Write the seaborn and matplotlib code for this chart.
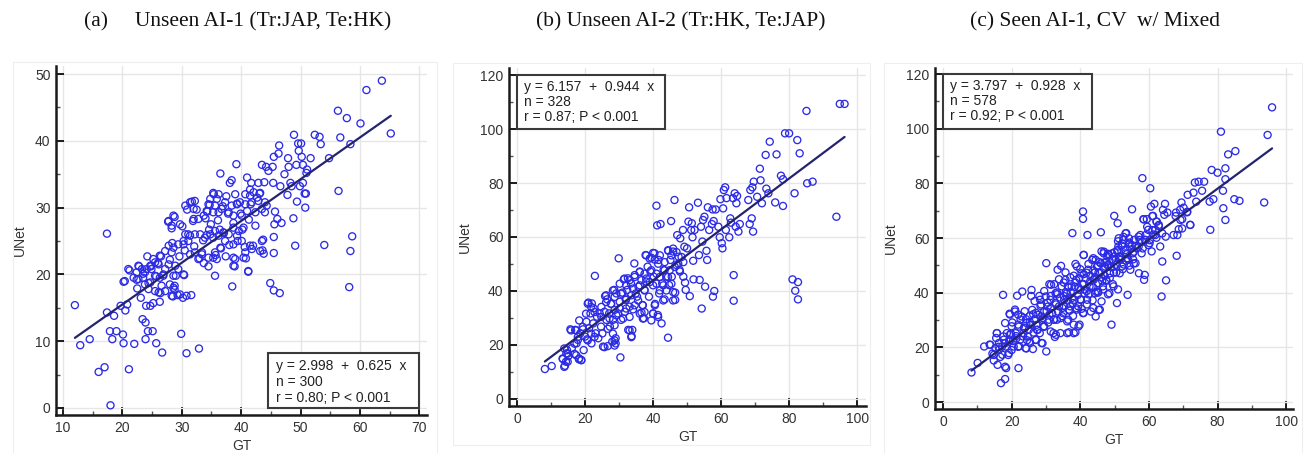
import numpy as np
import pandas as pd
import matplotlib
matplotlib.use("Agg")
import matplotlib.pyplot as plt
import seaborn as sns
from matplotlib.ticker import MultipleLocator
from matplotlib.patches import Rectangle

sns.set_theme(style="white")
plt.rcParams["font.family"] = ["Liberation Sans", "DejaVu Sans"]

# ---------------- data ----------------
titles = ["(a)     Unseen AI-1 (Tr:JAP, Te:HK)",
          "(b) Unseen AI-2 (Tr:HK, Te:JAP)",
          "(c) Seen AI-1, CV  w/ Mixed"]
x_label = "GT"
y_label = "UNet"
intercepts = [2.998, 6.157, 3.797]
slopes = [0.625, 0.944, 0.928]
n_values = [300, 328, 578]
r_values = [0.80, 0.87, 0.92]

# panel (a): spread-out points
a_gt = [12.0, 12.9, 14.5, 16.0, 17.0, 17.4, 17.4, 18.0, 17.9, 18.3,
        18.6, 19.0, 19.7, 20.1, 20.2, 20.2, 20.5, 20.8, 21.1, 21.2,
        22.0, 22.4, 22.5, 22.8, 23.1, 23.4, 23.9, 23.9, 24.0, 24.2,
        24.3, 24.7, 25.1, 24.8, 23.5, 24.4, 25.2, 25.7, 26.7, 26.3,
        26.4, 26.5, 25.7, 26.0, 26.9, 27.2, 27.7, 28.0, 28.3, 28.4,
        28.5, 28.8, 28.8, 28.8, 29.0, 29.3, 29.6, 29.9, 30.1, 30.2,
        30.3, 30.4, 30.5, 30.8, 30.9, 31.1, 31.6, 31.7, 31.9, 32.1,
        32.5, 32.9, 33.0, 33.4, 33.6, 33.7, 34.0, 34.2, 34.3, 34.5,
        34.6, 34.7, 34.9, 35.3, 35.4, 35.6, 35.7, 35.9, 36.1, 36.4,
        36.5, 36.6, 36.9, 37.1, 37.4, 37.5, 37.8, 38.0, 38.1, 38.4,
        38.5, 38.7, 38.9, 39.0, 39.2, 39.3, 39.4, 39.9, 40.2, 40.6,
        40.8, 41.0, 41.2, 41.3, 41.5, 41.6, 41.7, 42.0, 42.4, 42.7,
        42.9, 43.1, 43.5, 43.6, 43.7, 43.8, 43.9, 44.2, 44.3, 44.6,
        44.9, 45.3, 45.4, 45.5, 45.5, 45.6, 45.5, 45.5, 45.7, 46.1,
        46.3, 46.4, 46.5, 46.6, 46.8, 47.3, 47.8, 47.9, 48.0, 48.3,
        48.5, 48.8, 48.9, 49.1, 49.3, 49.4, 49.6, 49.7, 49.9, 50.1,
        50.2, 50.4, 50.4, 50.7, 50.8, 50.9, 51.0, 51.1, 51.7, 52.4,
        53.2, 53.4, 54.0, 54.8, 56.3, 56.4, 56.7, 57.8, 58.2, 58.4,
        58.4, 58.7, 60.1, 61.1, 63.7, 65.2]
a_unet = [15.4, 9.4, 10.3, 5.4, 6.1, 26.1, 14.3, 0.4, 11.5, 10.3,
          13.8, 11.5, 15.3, 11.0, 9.7, 18.9, 14.6, 15.5, 5.8, 20.6,
          9.6, 19.2, 17.9, 21.2, 16.5, 13.3, 12.8, 10.3, 15.3, 22.7,
          11.5, 15.3, 11.5, 21.2, 20.1, 18.7, 15.7, 9.7, 8.3, 15.9,
          17.2, 22.7, 19.7, 21.7, 20.0, 17.5, 27.9, 22.2, 26.9, 24.7,
          16.7, 28.6, 18.3, 17.7, 19.8, 16.9, 22.7, 11.1, 27.2, 16.5,
          25.0, 19.9, 23.6, 8.2, 29.7, 26.0, 16.9, 30.9, 28.0, 24.2,
          29.7, 8.9, 22.4, 23.3, 25.1, 21.7, 28.4, 25.9, 29.4, 21.2,
          26.7, 30.4, 27.5, 25.5, 32.0, 19.8, 22.9, 22.3, 28.1, 26.7,
          35.1, 23.9, 30.2, 26.2, 22.7, 31.7, 29.1, 24.4, 33.7, 34.1,
          18.2, 27.7, 21.2, 22.3, 36.5, 30.6, 25.0, 29.1, 26.7, 24.1,
          22.4, 34.5, 20.4, 28.2, 32.7, 30.5, 33.7, 24.3, 27.3, 31.5,
          33.7, 32.1, 36.4, 23.6, 25.2, 23.1, 33.8, 36.1, 30.3, 35.5,
          18.7, 36.1, 33.7, 37.6, 25.6, 27.5, 23.2, 17.6, 29.4, 28.3,
          38.1, 39.3, 17.2, 33.2, 27.7, 35.0, 31.9, 37.4, 36.1, 33.7,
          33.2, 28.4, 40.9, 24.3, 36.4, 30.9, 39.6, 38.5, 33.2, 39.6,
          37.6, 36.4, 33.7, 32.1, 30.0, 32.1, 35.2, 35.7, 37.4, 40.9,
          40.6, 39.5, 24.4, 37.4, 44.5, 32.5, 40.5, 43.4, 18.1, 39.5,
          23.5, 25.7, 42.6, 47.6, 49.0, 41.1]
# panel (a): dense central cluster
a_gt_cluster = [42.1, 43.2, 41.5, 40.7, 39.0, 39.8, 39.3, 40.7, 41.8, 42.9,
                44.0, 43.5, 42.4, 44.0, 41.0, 40.1, 38.7, 37.9, 38.4, 37.3,
                36.2, 35.3, 35.9, 34.8, 34.5, 35.6, 36.7, 36.2, 35.3, 34.2,
                33.7, 32.8, 32.0, 31.4, 30.6, 32.0, 32.2, 27.8, 28.6, 29.7,
                28.3, 30.6, 31.4, 32.2, 33.1, 33.9, 34.8, 35.6, 36.2, 37.0,
                37.9, 38.7, 39.6, 40.4, 39.3, 37.3, 36.5, 38.7, 40.1, 41.5,
                40.7, 40.4, 41.8, 43.5, 43.2, 38.7, 38.7, 41.2, 35.6, 35.3,
                34.5, 33.4, 32.8, 32.2, 31.4, 31.1, 30.3, 29.4, 28.6, 27.8,
                27.2, 28.3, 26.3, 25.5, 25.2, 26.1, 24.7, 24.9, 24.1, 23.8,
                23.3, 22.7, 22.4, 21.9, 22.7, 23.5, 23.8, 24.7, 25.5, 26.3,
                26.9, 27.2, 27.8, 28.9, 29.4, 30.3, 28.6, 28.0, 28.6, 29.7,
                30.8, 28.3, 26.1, 26.6, 25.5, 24.4, 21.0, 20.4]
a_unet_cluster = [32.3, 32.2, 31.8, 32.0, 32.0, 30.8, 30.5, 30.5, 30.8, 31.0,
                  30.8, 29.8, 29.3, 29.3, 29.5, 28.8, 28.8, 29.3, 30.3, 30.8,
                  32.0, 32.2, 31.3, 31.3, 30.5, 30.3, 29.8, 29.3, 29.3, 29.5,
                  28.8, 28.3, 28.3, 30.8, 30.3, 29.8, 31.0, 28.0, 28.8, 27.5,
                  27.3, 26.0, 25.8, 26.0, 26.0, 25.5, 26.0, 26.5, 25.8, 26.3,
                  26.0, 27.0, 26.5, 27.0, 25.8, 25.0, 24.0, 24.5, 25.0, 24.3,
                  23.3, 22.5, 23.8, 25.0, 23.5, 22.5, 21.3, 20.5, 23.3, 22.5,
                  22.5, 23.0, 22.3, 23.3, 23.0, 25.0, 24.5, 24.5, 24.0, 24.3,
                  23.5, 23.3, 22.8, 21.8, 22.3, 21.5, 21.3, 20.8, 20.8, 20.3,
                  20.8, 21.3, 20.3, 19.5, 19.3, 19.5, 18.5, 18.8, 19.8, 19.5,
                  19.8, 20.8, 21.5, 21.3, 20.8, 20.0, 19.8, 18.5, 18.0, 17.0,
                  16.8, 16.8, 17.3, 18.3, 17.5, 17.8, 20.8, 19.0]

# panel (b): spread-out points
b_gt = [8.2, 10.2, 13.5, 14.1, 14.5, 14.7, 14.9, 15.1, 15.7, 16.1,
        16.9, 17.1, 17.5, 17.9, 18.2, 18.6, 18.9, 19.4, 19.6, 20.0,
        20.4, 20.6, 21.0, 21.2, 21.6, 21.9, 22.0, 22.4, 22.5, 22.9,
        23.1, 23.5, 23.9, 24.3, 24.7, 25.1, 25.3, 25.7, 25.9, 26.3,
        26.5, 26.7, 27.1, 27.3, 27.6, 28.0, 28.2, 28.6, 28.7, 29.0,
        29.0, 29.2, 29.7, 29.9, 30.2, 30.4, 30.6, 31.0, 31.4, 31.7,
        32.0, 32.4, 32.6, 32.7, 33.1, 33.5, 33.7, 33.9, 34.1, 34.5,
        34.6, 34.9, 35.3, 35.7, 36.1, 36.6, 36.9, 37.3, 37.5, 37.8,
        38.0, 38.4, 38.8, 39.2, 39.5, 40.0, 40.2, 40.4, 40.6, 41.0,
        41.2, 41.4, 41.6, 41.8, 42.2, 42.5, 42.7, 43.1, 43.4, 43.9,
        44.4, 44.5, 44.7, 45.1, 45.3, 45.5, 45.9, 46.3, 46.5, 46.5,
        46.9, 47.1, 47.5, 47.8, 48.0, 48.8, 49.2, 49.4, 49.6, 50.0,
        50.4, 50.6, 50.8, 51.2, 51.4, 51.6, 51.8, 51.9, 52.2, 53.2,
        53.5, 53.7, 54.1, 54.3, 54.5, 54.7, 55.1, 55.3, 55.7, 55.9,
        56.1, 56.5, 57.3, 57.5, 57.6, 57.8, 58.0, 58.4, 59.2, 59.6,
        59.8, 60.2, 60.4, 60.6, 60.8, 61.2, 61.4, 61.6, 62.4, 62.7,
        62.9, 63.5, 63.7, 63.7, 64.0, 64.3, 64.5, 64.7, 65.1, 65.5,
        68.0, 68.4, 68.6, 69.0, 69.2, 69.4, 69.6, 70.6, 71.4, 71.6,
        72.0, 73.1, 73.3, 73.9, 74.3, 75.9, 76.3, 77.6, 78.2, 78.2,
        78.8, 80.0, 81.0, 81.6, 81.8, 82.4, 82.6, 82.6, 83.1, 85.1,
        85.3, 86.9, 93.9, 94.9, 96.3]
b_unet = [11.1, 12.2, 14.8, 12.3, 16.9, 18.1, 13.8, 15.9, 25.8, 18.8,
          16.7, 25.6, 20.6, 21.9, 14.7, 24.3, 14.4, 25.8, 18.1, 23.1,
          28.6, 22.1, 35.7, 26.2, 31.7, 20.6, 35.4, 28.0, 33.6, 45.6,
          24.3, 30.5, 22.5, 31.7, 26.8, 24.3, 19.4, 32.3, 38.1, 29.3,
          36.9, 19.6, 31.7, 26.8, 35.2, 21.2, 29.3, 40.4, 33.0, 22.5,
          20.6, 39.1, 31.7, 52.1, 36.0, 15.4, 29.3, 39.4, 44.3, 32.3,
          36.7, 40.4, 44.7, 25.6, 34.2, 42.8, 23.3, 25.6, 33.2, 50.2,
          45.9, 39.1, 37.9, 41.6, 47.2, 32.0, 34.8, 29.9, 40.4, 53.3,
          43.5, 49.0, 37.9, 47.2, 52.3, 31.7, 45.3, 54.0, 35.2, 71.6,
          64.3, 31.1, 51.5, 39.1, 64.8, 28.0, 42.8, 47.8, 36.9, 45.3,
          22.7, 54.9, 42.2, 51.5, 65.9, 45.3, 54.6, 73.7, 39.4, 36.7,
          49.6, 60.7, 52.7, 47.8, 59.5, 62.6, 56.4, 43.1, 40.4, 55.8,
          65.7, 71.0, 38.1, 62.6, 65.1, 59.9, 51.2, 44.3, 62.6, 72.7,
          53.3, 44.1, 63.8, 33.5, 58.3, 66.3, 67.5, 41.6, 54.9, 51.5,
          71.0, 62.6, 64.8, 70.2, 37.9, 65.9, 40.0, 70.2, 63.8, 59.9,
          74.0, 57.7, 55.8, 70.6, 77.4, 78.4, 62.6, 74.4, 59.9, 66.9,
          65.3, 74.4, 45.9, 36.4, 76.2, 63.8, 72.5, 75.2, 62.0, 64.8,
          73.7, 64.8, 77.4, 66.9, 78.4, 62.0, 80.5, 74.9, 85.3, 81.0,
          72.5, 90.4, 77.9, 76.2, 95.3, 72.8, 90.6, 82.7, 81.4, 71.5,
          98.4, 98.4, 44.3, 76.2, 40.1, 95.9, 43.3, 36.9, 91.0, 106.7,
          79.9, 80.5, 67.5, 109.3, 109.3]
# panel (b): dense cluster
b_gt_cluster = [38.0, 40.0, 39.0, 40.5, 42.0, 41.5, 43.4, 44.4, 45.9, 45.4,
                46.9, 48.4, 47.4, 48.9, 46.4, 44.9, 43.4, 47.9, 48.9, 36.1,
                37.5, 39.5, 41.0, 38.0, 36.6, 34.6, 33.1, 31.6, 30.2, 32.1,
                34.1, 36.1, 37.5, 39.0, 40.0, 42.0, 41.0, 42.0, 43.0, 44.4,
                45.4, 43.9, 45.9, 45.9, 28.2, 26.2, 28.7, 30.6, 32.1, 33.6,
                35.6, 34.6, 37.0, 37.5, 36.1, 32.1, 30.2, 27.7, 26.2, 24.8,
                22.8, 24.8, 27.2, 29.2, 31.2, 33.1, 28.7, 26.7, 28.2, 33.1,
                33.6, 28.7, 25.7, 28.7, 20.8, 21.8, 20.3, 18.3, 19.3, 15.9,
                17.4, 17.9, 16.9, 13.9, 14.9, 13.4, 14.4, 13.9, 17.4, 18.9,
                18.3, 21.8, 20.8, 22.8, 37.0, 40.0, 40.5, 43.0, 41.5, 39.5]
b_unet_cluster = [53.2, 54.1, 52.0, 51.6, 53.2, 50.1, 50.7, 55.1, 55.7, 53.2,
                  54.4, 52.6, 50.1, 50.7, 48.9, 47.7, 47.7, 47.2, 45.3, 47.0,
                  46.4, 47.7, 46.4, 44.6, 44.0, 45.2, 44.0, 44.6, 42.7, 42.1,
                  40.9, 42.1, 40.2, 43.3, 42.1, 45.2, 42.7, 40.2, 42.1, 45.2,
                  42.7, 40.2, 39.6, 36.5, 40.2, 38.4, 37.8, 39.0, 37.2, 38.4,
                  36.5, 34.7, 34.7, 32.2, 31.6, 33.5, 33.5, 35.3, 35.9, 34.1,
                  32.2, 30.4, 29.8, 31.0, 29.8, 30.4, 27.3, 26.0, 24.2, 25.4,
                  22.9, 21.7, 19.2, 19.8, 35.3, 34.1, 31.6, 29.1, 26.7, 25.4,
                  25.4, 23.0, 20.5, 18.7, 16.8, 15.0, 13.8, 11.9, 16.2, 14.4,
                  15.0, 24.2, 21.7, 23.0, 29.8, 31.6, 34.7, 36.5, 30.4, 29.1]

# panel (c): spread-out points
c_gt = [8.3, 10.1, 12.0, 13.6, 14.4, 14.8, 15.3, 15.5, 15.7, 15.9,
        16.3, 16.9, 17.3, 17.5, 17.7, 18.1, 18.3, 18.4, 18.6, 19.2,
        19.4, 19.6, 19.8, 20.2, 20.6, 21.0, 21.2, 21.6, 22.0, 22.1,
        22.5, 22.9, 23.1, 23.5, 24.1, 24.3, 24.7, 25.0, 25.4, 25.8,
        26.0, 26.2, 26.6, 27.0, 27.4, 27.8, 28.2, 28.3, 28.7, 28.9,
        29.3, 29.5, 29.9, 30.1, 30.1, 30.5, 30.9, 31.3, 31.5, 31.8,
        32.2, 32.6, 32.8, 33.2, 33.4, 33.8, 34.2, 34.4, 34.6, 35.0,
        35.3, 35.7, 36.1, 36.5, 36.7, 37.1, 37.5, 37.7, 37.9, 38.3,
        38.6, 38.8, 39.0, 39.4, 39.8, 40.0, 40.4, 40.8, 40.8, 40.8,
        41.0, 41.2, 41.6, 42.0, 42.1, 42.3, 42.7, 43.1, 43.5, 43.9,
        44.3, 44.5, 44.9, 45.2, 45.4, 45.8, 46.0, 46.2, 46.6, 46.8,
        47.2, 47.6, 47.9, 48.5, 48.7, 49.1, 49.3, 49.7, 49.9, 50.3,
        50.7, 50.9, 51.1, 51.5, 51.8, 52.2, 52.6, 53.2, 53.4, 53.8,
        54.0, 54.4, 54.6, 55.1, 55.3, 55.7, 56.1, 56.5, 57.1, 57.5,
        57.9, 58.1, 58.4, 58.6, 58.8, 59.0, 59.4, 59.8, 60.2, 60.4,
        60.6, 60.8, 61.2, 61.6, 61.9, 62.3, 62.9, 63.3, 63.7, 63.9,
        64.1, 64.5, 64.7, 64.9, 65.0, 65.4, 67.2, 67.9, 68.1, 68.7,
        69.1, 69.5, 69.7, 70.1, 71.1, 71.3, 72.0, 73.0, 73.4, 73.8,
        74.5, 75.5, 76.1, 77.7, 77.9, 78.3, 78.8, 80.0, 81.0, 81.6,
        81.7, 82.3, 82.3, 82.3, 83.1, 84.9, 85.2, 86.4, 93.6, 94.6,
        95.9]
c_unet = [10.8, 14.3, 20.3, 21.0, 17.7, 15.2, 19.7, 23.4, 25.2, 13.6,
          21.6, 6.9, 17.3, 39.2, 22.8, 8.4, 20.3, 12.4, 25.2, 17.9,
          32.3, 22.8, 25.0, 29.1, 20.3, 33.1, 25.2, 38.9, 12.4, 27.6,
          22.8, 31.3, 40.4, 25.2, 19.7, 28.9, 24.0, 26.4, 21.6, 41.0,
          33.7, 19.4, 30.1, 22.8, 26.4, 31.9, 25.2, 37.4, 21.6, 30.1,
          27.6, 33.1, 38.6, 18.5, 50.8, 34.9, 30.1, 37.4, 42.9, 32.5,
          25.2, 23.8, 39.8, 30.1, 48.4, 35.0, 25.2, 49.8, 42.3, 32.5,
          37.4, 44.7, 39.8, 30.1, 25.5, 35.0, 42.3, 61.8, 31.5, 37.4,
          25.5, 44.7, 49.6, 35.0, 28.3, 41.0, 47.1, 32.5, 69.7, 67.0,
          53.8, 39.8, 45.3, 37.4, 61.1, 48.4, 42.3, 33.1, 52.0, 44.7,
          39.8, 31.3, 49.6, 43.5, 33.7, 47.1, 62.1, 36.8, 42.3, 54.4,
          49.6, 44.7, 53.2, 39.8, 47.1, 28.3, 54.4, 42.3, 68.1, 52.0,
          36.2, 65.4, 56.9, 47.1, 53.2, 49.6, 59.3, 54.4, 61.8, 39.2,
          52.0, 56.9, 48.4, 70.5, 54.4, 59.3, 50.8, 56.3, 47.1, 61.1,
          54.4, 81.9, 66.9, 44.7, 46.5, 59.3, 66.9, 63.0, 58.1, 78.2,
          71.5, 55.1, 68.1, 72.5, 63.0, 66.0, 64.3, 56.9, 38.6, 51.4,
          70.3, 68.5, 72.5, 60.5, 44.5, 69.3, 61.1, 69.3, 53.5, 63.2,
          70.3, 73.0, 66.9, 71.1, 69.4, 75.8, 64.8, 76.6, 80.3, 73.3,
          80.6, 77.3, 80.6, 73.3, 63.0, 84.9, 74.2, 83.9, 98.9, 77.3,
          70.9, 85.5, 81.5, 66.6, 90.6, 74.2, 91.8, 73.6, 73.0, 97.7,
          107.8]
# panel (c): dense band along the fit
c_gt_band = [20.4, 21.3, 22.2, 23.6, 24.5, 25.3, 26.4, 27.2, 28.6, 29.4,
             30.2, 30.7, 31.4, 32.3, 32.8, 33.5, 34.1, 34.7, 35.2, 35.8,
             36.3, 36.9, 37.2, 37.8, 38.4, 38.9, 39.3, 39.7, 40.2, 40.6,
             41.3, 41.8, 42.4, 42.9, 43.3, 43.8, 44.1, 44.7, 45.3, 45.6,
             46.4, 46.9, 47.1, 47.7, 48.2, 48.6, 49.3, 49.8, 50.4, 50.8,
             51.3, 52.1, 52.7, 53.6, 54.3, 55.4, 56.2, 57.3, 58.2, 59.1,
             60.3, 61.4, 62.2, 33.2, 36.4, 38.1, 40.4, 43.6, 45.2, 28.4,
             26.3, 24.2, 22.6, 19.3, 17.2, 16.4]
c_unet_band = [22.3, 24.1, 20.4, 27.2, 22.6, 29.3, 25.4, 28.2, 31.3, 27.5,
               33.2, 29.1, 34.4, 30.2, 36.3, 33.1, 38.2, 31.4, 35.3, 40.2,
               37.1, 33.4, 40.3, 36.2, 42.1, 34.3, 39.2, 45.3, 37.4, 43.2,
               41.1, 47.3, 39.4, 44.2, 42.3, 48.1, 45.2, 40.3, 47.4, 51.2,
               44.3, 49.1, 46.2, 51.3, 50.1, 45.4, 52.2, 47.3, 50.2, 55.1,
               52.4, 57.2, 50.3, 54.1, 58.3, 52.2, 57.1, 59.3, 56.2, 61.1,
               59.2, 61.3, 60.1, 40.1, 42.3, 46.2, 34.1, 37.2, 40.4, 35.2,
               32.1, 30.3, 30.2, 22.1, 20.3, 19.2]
c_gt_cluster = [52.6, 51.0, 54.3, 46.2, 48.1, 50.0, 51.4, 53.3, 43.8, 42.4,
                45.2, 47.1, 49.0, 50.5, 52.4, 54.3, 38.6, 40.0, 41.0, 42.9,
                44.3, 46.2, 47.6, 49.5, 51.0, 35.7, 37.1, 38.6, 35.2, 33.8,
                32.4, 31.0, 36.7, 39.5, 41.0, 41.9, 43.8, 45.2, 46.7, 48.1,
                29.5, 28.1, 31.4, 33.3, 35.2, 37.6, 40.0, 41.9, 43.8, 45.7,
                25.7, 26.7, 28.6, 30.5, 32.9, 34.8, 36.7, 39.0, 41.0, 21.0,
                19.5, 21.9, 23.8, 25.2, 27.1, 29.0, 31.0, 32.4, 34.3, 36.2,
                38.1, 39.5, 18.1, 20.0, 21.9, 23.8, 25.7, 27.6, 29.5, 31.4,
                32.9, 36.2, 38.1, 15.7, 17.6, 19.5, 21.4, 23.3, 25.2, 27.1,
                29.0, 13.8, 16.2, 18.1, 20.0, 21.9, 24.3, 14.8, 16.7, 19.0,
                18.1, 61.0, 62.2, 59.5, 61.0, 62.9, 63.9, 61.9, 58.5, 69.2,
                69.7, 72.1, 68.3, 53.2, 51.2, 54.2, 52.2, 55.1, 50.8, 53.2,
                55.6, 57.0, 58.0, 58.9, 59.9, 57.0, 46.9, 48.3, 49.8, 51.7,
                53.7, 55.6, 44.5, 46.0, 47.9, 49.8, 41.0, 67.8, 71.2]
c_unet_cluster = [60.4, 58.8, 57.9, 55.1, 54.2, 54.8, 53.0, 51.7, 52.6, 50.5,
                  49.9, 51.1, 49.3, 47.4, 48.6, 49.9, 50.5, 48.6, 46.8, 46.2,
                  47.4, 45.6, 44.3, 43.1, 41.2, 47.4, 45.6, 43.7, 43.7, 44.9,
                  43.1, 43.1, 41.9, 41.9, 43.1, 40.6, 41.9, 40.0, 41.2, 39.4,
                  40.6, 38.8, 38.8, 39.4, 38.8, 38.1, 37.5, 35.7, 34.4, 33.8,
                  38.8, 36.9, 35.7, 36.3, 35.7, 34.4, 33.8, 33.8, 32.6, 33.8,
                  32.0, 32.0, 33.2, 31.4, 32.6, 30.7, 32.0, 30.1, 30.7, 29.5,
                  28.3, 27.7, 28.9, 27.7, 28.3, 27.0, 28.3, 26.4, 27.7, 25.8,
                  24.6, 25.2, 25.2, 25.2, 24.0, 24.6, 23.3, 24.0, 22.1, 22.7,
                  21.5, 20.9, 20.2, 21.5, 19.0, 20.2, 19.6, 17.2, 16.5, 17.2,
                  12.9, 68.0, 66.0, 64.1, 62.9, 64.8, 61.7, 61.1, 66.8, 66.6,
                  63.5, 64.8, 61.1, 61.7, 59.9, 59.9, 58.0, 57.4, 55.6, 55.6,
                  55.0, 60.5, 58.7, 59.3, 57.4, 56.8, 55.0, 53.8, 53.2, 52.0,
                  52.6, 50.7, 52.0, 50.7, 50.1, 49.5, 53.8, 68.0, 69.6]

# ---------------- layout ----------------
W, H = 1312, 453
fig = plt.figure(figsize=(W / 100, H / 100), dpi=100)


def px_rect(l, t, r, b):
    return [l / W, 1 - b / H, (r - l) / W, (b - t) / H]


panels = [
    dict(gt=a_gt + a_gt_cluster, unet=a_unet + a_unet_cluster,
         rect=px_rect(56, 66, 427, 415),
         xlim=(8.82, 71.3), ylim=(-1.05, 51.2), xmaj=10, xmin=5, ymaj=10, ymin=5,
         box=(44.6, 0.0, 70.0, 8.2), txt_x=45.9, txt_y=[6.3, 3.9, 1.5],
         title_x=238, frame=(13, 62, 437, 470)),
    dict(gt=b_gt + b_gt_cluster, unet=b_unet + b_unet_cluster,
         rect=px_rect(509, 68, 866, 406),
         xlim=(-2.35, 102.6), ylim=(-2.6, 122.6), xmaj=20, xmin=10, ymaj=20, ymin=10,
         box=(0.0, 100.0, 43.5, 120.0), txt_x=2.0, txt_y=[115.6, 110.0, 104.5],
         title_x=681, frame=(453, 63, 870, 445)),
    dict(gt=c_gt + c_gt_band + c_gt_cluster,
         unet=c_unet + c_unet_band + c_unet_cluster,
         rect=px_rect(935, 68, 1293, 409),
         xlim=(-2.33, 102.0), ylim=(-2.56, 122.2), xmaj=20, xmin=10, ymaj=20, ymin=10,
         box=(0.0, 100.0, 43.5, 120.0), txt_x=2.0, txt_y=[115.6, 110.0, 104.5],
         title_x=1095, frame=(884, 63, 1302, 470)),
]

point_color = "#2b2be6"
line_color = "#24246e"

for i, p in enumerate(panels):
    fl, ft, fr, fb = p["frame"]
    fig.patches.append(Rectangle((fl / W, 1 - fb / H), (fr - fl) / W, (fb - ft) / H,
                                 transform=fig.transFigure, fill=False,
                                 edgecolor="#eeeeee", linewidth=0.8, zorder=0))

    ax = fig.add_axes(p["rect"])
    df = pd.DataFrame({"GT": p["gt"], "UNet": p["unet"]})
    sns.scatterplot(data=df, x="GT", y="UNet", ax=ax, marker="o", s=26,
                    facecolors="none", edgecolor=point_color, linewidth=0.95,
                    zorder=3)
    xs = np.array([df["GT"].min(), df["GT"].max()])
    line_df = pd.DataFrame({"x": xs, "y": intercepts[i] + slopes[i] * xs})
    sns.lineplot(data=line_df, x="x", y="y", ax=ax, color=line_color,
                 linewidth=1.6, zorder=4)

    ax.set_xlim(*p["xlim"])
    ax.set_ylim(*p["ylim"])
    ax.xaxis.set_major_locator(MultipleLocator(p["xmaj"]))
    ax.xaxis.set_minor_locator(MultipleLocator(p["xmin"]))
    ax.yaxis.set_major_locator(MultipleLocator(p["ymaj"]))
    ax.yaxis.set_minor_locator(MultipleLocator(p["ymin"]))
    ax.grid(True, which="major", color="#e6e6e6", linewidth=1.0, zorder=0)
    ax.set_axisbelow(True)

    for s in ["top", "right"]:
        ax.spines[s].set_visible(False)
    for s in ["left", "bottom"]:
        ax.spines[s].set_color("#1a1a1a")
        ax.spines[s].set_linewidth(1.8)

    ax.tick_params(which="major", direction="in", length=5.5, width=1.4,
                   color="#1a1a1a", labelsize=10, labelcolor="#333333", pad=4,
                   left=True, bottom=True)
    ax.tick_params(which="minor", direction="in", length=3, width=1.0,
                   color="#555555", left=True, bottom=True)

    ax.set_xlabel(x_label, fontsize=10, color="#333333", labelpad=3)
    ax.set_ylabel(y_label, fontsize=10, color="#333333", labelpad=6)

    bx0, by0, bx1, by1 = p["box"]
    ax.add_patch(Rectangle((bx0, by0), bx1 - bx0, by1 - by0, facecolor="white",
                           edgecolor="#3a3a3a", linewidth=1.5, zorder=5))
    lines = [f"y = {intercepts[i]:.3f}  +  {slopes[i]:.3f}  x",
             f"n = {n_values[i]}",
             f"r = {r_values[i]:.2f}; P < 0.001"]
    for ty, t in zip(p["txt_y"], lines):
        ax.text(p["txt_x"], ty, t, fontsize=10, color="#222222", va="center",
                ha="left", zorder=6)

    fig.text(p["title_x"] / W, 1 - 22 / H, titles[i], ha="center", va="center",
             fontsize=15.5, family=["Liberation Serif", "DejaVu Serif"], color="#111111")

fig.savefig("out.png", dpi=100, facecolor="white")
